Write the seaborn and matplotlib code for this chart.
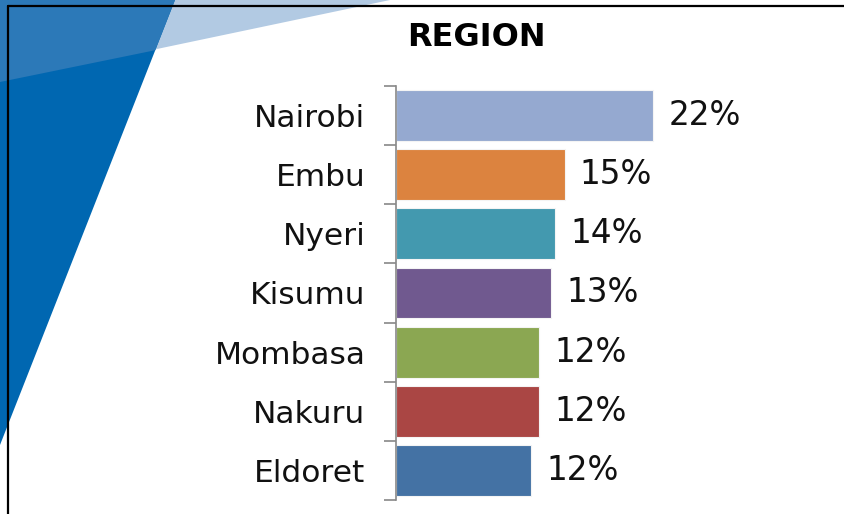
import matplotlib

matplotlib.use("Agg")
import matplotlib.pyplot as plt
import numpy as np
import seaborn as sns
from matplotlib.lines import Line2D
from matplotlib.patches import Polygon

regions = ["Nairobi", "Embu", "Nyeri", "Kisumu", "Mombasa", "Nakuru", "Eldoret"]
shares = [22.3, 14.6, 13.8, 13.4, 12.4, 12.4, 11.7]
bar_colors = ["#95a9d0", "#dc833f", "#4399af", "#70598f", "#8ba752", "#aa4644", "#4472a4"]
title = "REGION"

W, H = 844, 514


def px(x, y):
    # pixel (from top-left) -> figure fraction
    return (x / W, 1 - y / H)


sns.set_style("white")
plt.rcParams["font.family"] = ["DejaVu Sans"]

fig = plt.figure(figsize=(W / 100, H / 100), dpi=100)
fig.patch.set_facecolor("white")

# background decoration
pale = Polygon([px(0, 0), px(390, 0), px(0, 82)], closed=True,
               transform=fig.transFigure, facecolor="#b2cae3", edgecolor="none", zorder=0)
dark = Polygon([px(0, 0), px(175, 0), px(0, 445)], closed=True,
               transform=fig.transFigure, facecolor="#0067b1", edgecolor="none", zorder=0)
mid = Polygon([px(0, 0), px(175, 0), px(155.3, 50.2), px(0, 82)], closed=True,
              transform=fig.transFigure, facecolor="#2c79b8", edgecolor="none", zorder=0)
for p in (pale, dark, mid):
    fig.patches.append(p)
fig.lines.append(Line2D([8 / W, 1], [1 - 6 / H] * 2, transform=fig.transFigure,
                        color="black", linewidth=1.6))
fig.lines.append(Line2D([8 / W] * 2, [0, 1 - 6 / H], transform=fig.transFigure,
                        color="black", linewidth=1.6))

ax = fig.add_axes([396 / W, 1 - 500 / H, 404 / W, 414 / H])
ax.patch.set_alpha(0)

sns.barplot(x=shares, y=regions, hue=regions, palette=bar_colors, legend=False,
            orient="h", width=0.86, saturation=1, edgecolor="#f4f4f4", linewidth=0.8, ax=ax)

for container in ax.containers:
    ax.bar_label(container, fmt="{:.0f}%", padding=11, fontsize=23.5, color="#111111")

ax.set_xlim(0, 35)
ax.set_ylim(len(regions) - 0.5, -0.5)
ax.set_xlabel("")
ax.set_ylabel("")
ax.set_xticks([])
sns.despine(ax=ax, left=False, bottom=True, top=True, right=True)
ax.spines["left"].set_color("#888888")
ax.spines["left"].set_linewidth(1.2)
ax.set_yticks(np.arange(-0.5, len(regions), 1), minor=True)
ax.tick_params(axis="y", which="minor", length=9, width=1.2, color="#888888", left=True)
ax.tick_params(axis="y", which="major", length=0, pad=22, labelsize=22.5, labelcolor="#111111")

fig.text(476 / W, 1 - 38 / H, title, ha="center", va="center",
         fontsize=23, fontweight="bold", color="black")

fig.savefig("out.png", dpi=100)
